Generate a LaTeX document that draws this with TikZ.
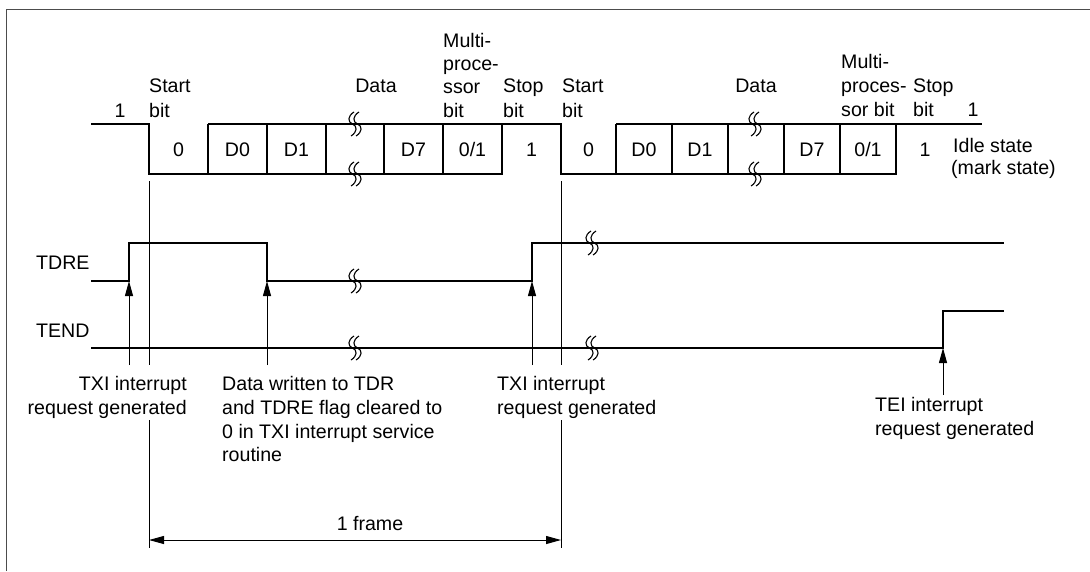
\documentclass[tikz,border=0pt]{standalone}
\usepackage{fontspec}
\setmainfont{Liberation Sans}
\usetikzlibrary{arrows.meta}
\tikzset{
  brk/.pic={
    \foreach \dx in {-2.5,2.5}{
      \draw[line width=1.1pt] (\dx+1.5,-12) .. controls (\dx-5,-8) and (\dx-5,-2) .. (\dx,0)
        .. controls (\dx+5,2) and (\dx+5,8) .. (\dx-1.5,12);
    }
  }
}
\begin{document}
\begin{tikzpicture}[x=1pt,y=-1pt,
  wave/.style={line width=1.2pt},
  bord/.style={line width=1pt, draw=black!70},
  lbl/.style={inner sep=0pt, font=\fontsize{19.6}{23}\selectfont},
  lw/.style={lbl, anchor=base west},
  lc/.style={lbl, anchor=base},
  le/.style={lbl, anchor=base east},
  marker/.style={line width=1pt},
  evt/.style={line width=1pt, -{Triangle[length=15pt,width=8pt]}},
  span/.style={line width=1pt, {Triangle[length=15pt,width=8pt]}-{Triangle[length=15pt,width=8pt]}}
]
\useasboundingbox (0,0) rectangle (1090,571);
% border (top and left edges visible)
\draw[bord] (6,571) -- (6,9) -- (1090,9);

% ---------- serial data waveform ----------
\draw[wave] (91,124) -- (149,124) -- (149,174) -- (502,174) -- (502,124) -- (561,124)
  -- (561,174) -- (896,174) -- (896,124) -- (982,124);
\draw[wave] (208,124) -- (502,124);
\draw[wave] (616,124) -- (896,124);
\foreach \x in {208,267,326,384,443,616,672,728,784,840}
  \draw[wave] (\x,124) -- (\x,174);
\path (355,124) pic {brk} (355,174) pic {brk} (755,124) pic {brk} (755,174) pic {brk};

% bit labels
\node[lc] (b0a) at (178.5,156) {0};
\node[lc] (d0a) at (237.5,156) {D0};
\node[lc] (d1a) at (296.5,156) {D1};
\node[lc] (d7a) at (413.5,156) {D7};
\node[lc] (mpa) at (472.5,156) {0/1};
\node[lc] (spa) at (531.5,156) {1};
\node[lc] (b0b) at (588.5,156) {0};
\node[lc] (d0b) at (644,156) {D0};
\node[lc] (d1b) at (700,156) {D1};
\node[lc] (d7b) at (812,156) {D7};
\node[lc] (mpb) at (868,156) {0/1};
\node[lc] (spb) at (925,156) {1};

% field labels, first frame
\node[lc] (oneA) at (120,117) {1};
\node[lw] (stA1) at (149,92) {Start};
\node[lw] (stA2) at (149,117) {bit};
\node[lc] (dtA) at (376,92) {Data};
\node[lw] (mpA1) at (443,47) {Multi-};
\node[lw] (mpA2) at (443,70) {proce-};
\node[lw] (mpA3) at (443,93) {ssor};
\node[lw] (mpA4) at (443,117) {bit};
\node[lw] (spA1) at (503,92) {Stop};
\node[lw] (spA2) at (503,117) {bit};
% field labels, second frame
\node[lw] (stB1) at (562,92) {Start};
\node[lw] (stB2) at (562,117) {bit};
\node[lc] (dtB) at (756,92) {Data};
\node[lw] (mpB1) at (841,68) {Multi-};
\node[lw] (mpB2) at (841,92) {proces-};
\node[lw] (mpB3) at (841,116) {sor bit};
\node[lw] (spB1) at (913,92) {Stop};
\node[lw] (spB2) at (913,116) {bit};
\node[lc] (oneB) at (973,116) {1};
\node[lw] (idle1) at (953,152) {Idle state};
\node[lw] (idle2) at (951,174) {(mark state)};

% ---------- TDRE / TEND ----------
\node[lw] (tdre) at (36,269) {TDRE};
\node[lw] (tend) at (36,337) {TEND};
\draw[wave] (91,281) -- (129,281) -- (129,243) -- (267,243) -- (267,281) -- (532,281)
  -- (532,243) -- (1004,243);
\draw[wave] (91,348) -- (943,348) -- (943,311) -- (1004,311);
\path (355,281) pic {brk} (592,243) pic {brk} (355,348) pic {brk} (592,348) pic {brk};

% frame boundary lines
\coordinate (fa1) at (149,181); \coordinate (fa2) at (149,365);
\coordinate (fa3) at (149,420); \coordinate (fa4) at (149,548);
\coordinate (fb1) at (561,181); \coordinate (fb2) at (561,365);
\coordinate (fb3) at (561,420); \coordinate (fb4) at (561,548);
\draw[marker] (fa1) -- (fa2) (fa3) -- (fa4) (fb1) -- (fb2) (fb3) -- (fb4);

% event arrows
\coordinate (e1b) at (129,365); \coordinate (e1t) at (129,281);
\coordinate (e2b) at (267,365); \coordinate (e2t) at (267,281);
\coordinate (e3b) at (532,365); \coordinate (e3t) at (532,281);
\coordinate (e4b) at (943,395); \coordinate (e4t) at (943,348);
\draw[evt] (e1b) -- (e1t);
\draw[evt] (e2b) -- (e2t);
\draw[evt] (e3b) -- (e3t);
\draw[evt] (e4b) -- (e4t);

% frame span
\coordinate (sp1) at (149,540); \coordinate (sp2) at (561,540);
\draw[span] (sp1) -- (sp2);
\node[lc] (frm) at (370,530) {1 frame};

% ---------- bottom notes ----------
\node[le] (txi1a) at (187,390) {TXI interrupt};
\node[le] (txi1b) at (187,414) {request generated};
\node[lw] (dw1) at (222,390) {Data written to TDR};
\node[lw] (dw2) at (222,414) {and TDRE flag cleared to};
\node[lw] (dw3) at (222,438) {0 in TXI interrupt service};
\node[lw] (dw4) at (222,461) {routine};
\node[lw] (txi2a) at (497,390) {TXI interrupt};
\node[lw] (txi2b) at (497,414) {request generated};
\node[lw] (tei1) at (875,411) {TEI interrupt};
\node[lw] (tei2) at (875,435) {request generated};
\end{tikzpicture}
\end{document}
